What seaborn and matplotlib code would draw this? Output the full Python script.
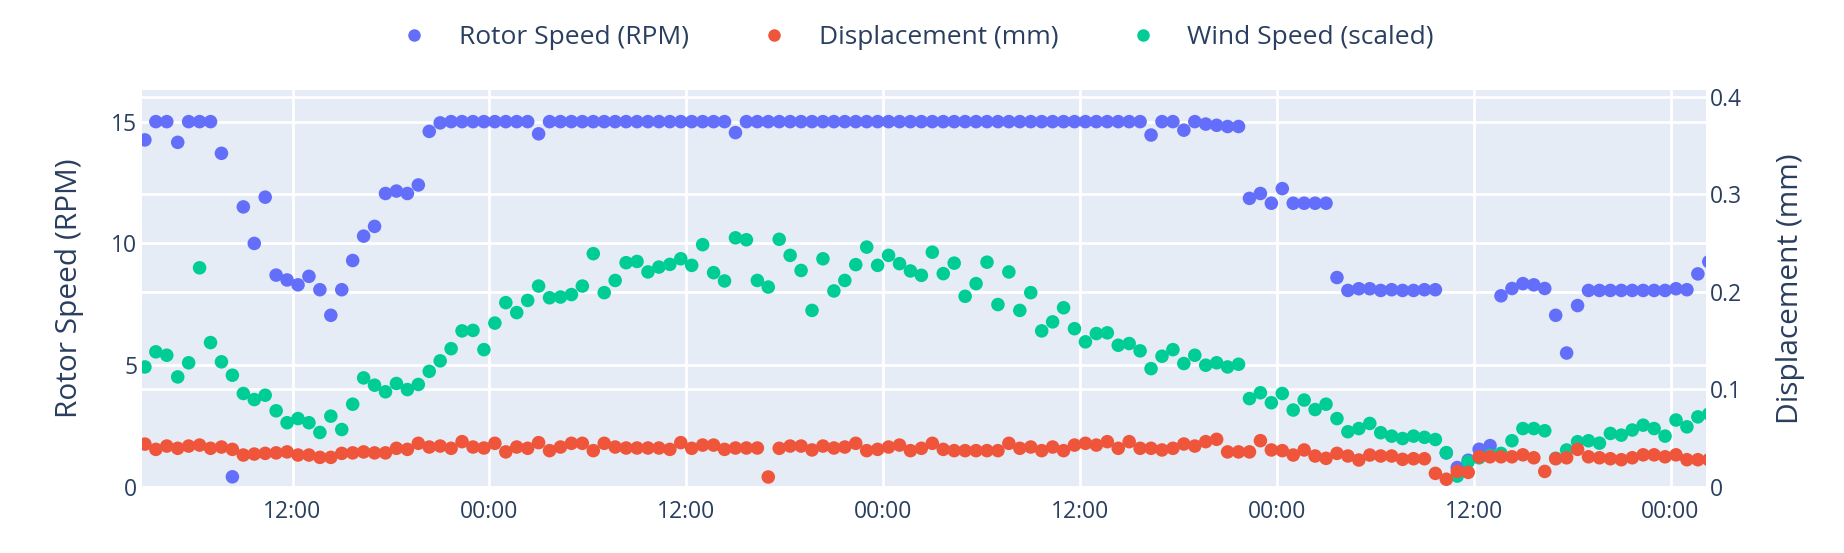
import numpy as np
import pandas as pd
import seaborn as sns
import matplotlib.pyplot as plt
import matplotlib.dates as mdates
from matplotlib.lines import Line2D

# readings every 40 minutes over four days
START = '2024-03-01 03:00'
STEP = '40min'

rotor_speed = [
    14.25, 15.0, 15.0, 14.15, 15.0, 15.0, 15.0, 13.7, 0.42, 11.5,
    10.0, 11.9, 8.7, 8.5, 8.3, 8.65, 8.1, 7.05, 8.1, 9.3,
    10.3, 10.7, 12.05, 12.15, 12.05, 12.4, 14.6, 14.95, 15.0, 15.0,
    15.0, 15.0, 15.0, 15.0, 15.0, 15.0, 14.5, 15.0, 15.0, 15.0,
    15.0, 15.0, 15.0, 15.0, 15.0, 15.0, 15.0, 15.0, 15.0, 15.0,
    15.0, 15.0, 15.0, 15.0, 14.55, 15.0, 15.0, 15.0, 15.0, 15.0,
    15.0, 15.0, 15.0, 15.0, 15.0, 15.0, 15.0, 15.0, 15.0, 15.0,
    15.0, 15.0, 15.0, 15.0, 15.0, 15.0, 15.0, 15.0, 15.0, 15.0,
    15.0, 15.0, 15.0, 15.0, 15.0, 15.0, 15.0, 15.0, 15.0, 15.0,
    15.0, 15.0, 14.45, 15.0, 15.0, 14.65, 15.0, 14.9, 14.85, 14.8,
    14.8, 11.85, 12.05, 11.65, 12.25, 11.65, 11.65, 11.65, 11.65, 8.6,
    8.07, 8.14, 8.14, 8.07, 8.1, 8.07, 8.07, 8.1, 8.1, 1.4,
    0.8, 1.1, 1.55, 1.7, 7.85, 8.15, 8.35, 8.3, 8.15, 7.05,
    5.5, 7.45, 8.07, 8.07, 8.07, 8.07, 8.07, 8.07, 8.07, 8.07,
    8.14, 8.1, 8.75, 9.25,
]

displacement = [
    0.044, 0.0386, 0.042, 0.0397, 0.042, 0.043, 0.0397, 0.041, 0.0386, 0.0328,
    0.0338, 0.0345, 0.035, 0.036, 0.0328, 0.0328, 0.0304, 0.0304, 0.0345, 0.035,
    0.036, 0.035, 0.035, 0.0397, 0.0386, 0.0448, 0.041, 0.042, 0.0397, 0.0465,
    0.041, 0.040, 0.0448, 0.036, 0.041, 0.0397, 0.0455, 0.0373, 0.041, 0.0448,
    0.0448, 0.0373, 0.0448, 0.041, 0.040, 0.040, 0.040, 0.040, 0.0386, 0.0455,
    0.0397, 0.043, 0.043, 0.0386, 0.040, 0.040, 0.040, 0.0103, 0.0397, 0.042,
    0.042, 0.038, 0.042, 0.040, 0.041, 0.0448, 0.0373, 0.0386, 0.041, 0.043,
    0.0373, 0.0397, 0.0448, 0.0386, 0.0373, 0.0373, 0.0373, 0.0373, 0.0373, 0.0448,
    0.0397, 0.041, 0.0373, 0.041, 0.0373, 0.043, 0.0448, 0.043, 0.0465, 0.0397,
    0.0465, 0.0397, 0.0397, 0.038, 0.0397, 0.0441, 0.042, 0.0465, 0.0489, 0.036,
    0.036, 0.036, 0.0475, 0.038, 0.0373, 0.0328, 0.038, 0.0318, 0.0294, 0.0345,
    0.0318, 0.0277, 0.0328, 0.0318, 0.0318, 0.0284, 0.029, 0.029, 0.014, 0.008,
    0.016, 0.015, 0.031, 0.031, 0.031, 0.031, 0.033, 0.030, 0.016, 0.029,
    0.030, 0.0386, 0.031, 0.030, 0.029, 0.028, 0.030, 0.033, 0.033, 0.031,
    0.033, 0.028, 0.028, 0.028,
]

wind_scaled = [
    4.93, 5.55, 5.41, 4.52, 5.1, 9.0, 5.93, 5.14, 4.59, 3.84,
    3.59, 3.77, 3.13, 2.64, 2.81, 2.64, 2.24, 2.91, 2.36, 3.4,
    4.48, 4.18, 3.91, 4.25, 4.0, 4.21, 4.75, 5.18, 5.68, 6.41,
    6.43, 5.64, 6.73, 7.57, 7.16, 7.66, 8.25, 7.77, 7.8, 7.9,
    8.25, 9.58, 7.98, 8.48, 9.21, 9.26, 8.83, 9.03, 9.14, 9.37,
    9.1, 9.95, 8.8, 8.46, 10.23, 10.15, 8.48, 8.21, 10.17, 9.51,
    8.89, 7.25, 9.37, 8.05, 8.48, 9.13, 9.85, 9.1, 9.51, 9.17,
    8.87, 8.69, 9.64, 8.76, 9.19, 7.83, 8.35, 9.23, 7.49, 8.83,
    7.25, 7.98, 6.41, 6.78, 7.36, 6.5, 5.96, 6.3, 6.33, 5.82,
    5.89, 5.59, 4.86, 5.37, 5.64, 5.07, 5.41, 5.0, 5.1, 4.93,
    5.04, 3.63, 3.87, 3.46, 3.84, 3.16, 3.57, 3.18, 3.4, 2.81,
    2.27, 2.4, 2.61, 2.23, 2.09, 1.99, 2.09, 2.04, 1.95, 1.41,
    0.45, 1.04, 1.2, 1.3, 1.38, 1.9, 2.4, 2.4, 2.31, 1.18,
    1.52, 1.86, 1.9, 1.8, 2.2, 2.13, 2.34, 2.54, 2.4, 2.09,
    2.75, 2.47, 2.88, 3.0,
]

labels = ['Rotor Speed (RPM)', 'Displacement (mm)', 'Wind Speed (scaled)']
colors = ['#636EFA', '#EF553B', '#00CC96']
text_color = '#2a3f5f'
bg_color = '#E5ECF6'

times = pd.date_range(START, periods=len(rotor_speed), freq=STEP)
df = pd.DataFrame({'time': times, 'rotor': rotor_speed,
                   'disp': displacement, 'wind': wind_scaled})

left_top = 16.3
right_top = 0.407

sns.set_style('white')
plt.rcParams['font.family'] = ['Open Sans', 'DejaVu Sans']

fig, ax = plt.subplots(figsize=(18.44, 5.53), dpi=100)
fig.subplots_adjust(left=0.0768, right=0.9252, top=0.8373, bottom=0.1193)
ax2 = ax.twinx()

ax.set_facecolor(bg_color)
ax2.patch.set_visible(False)

ms = 95
sns.scatterplot(data=df, x='time', y='rotor', ax=ax, color=colors[0], s=ms,
                edgecolor='none', legend=False, zorder=3)
sns.scatterplot(data=df, x='time', y='wind', ax=ax, color=colors[2], s=ms,
                edgecolor='none', legend=False, zorder=4)
sns.scatterplot(data=df, x='time', y='disp', ax=ax2, color=colors[1], s=ms,
                edgecolor='none', legend=False, zorder=3)

ax.set_xlim(pd.Timestamp('2024-03-01 02:48'), pd.Timestamp('2024-03-05 02:10'))
ax.set_ylim(0, left_top)
ax2.set_ylim(0, right_top)

ax.xaxis.set_major_locator(mdates.HourLocator(byhour=[0, 12]))
ax.xaxis.set_major_formatter(mdates.DateFormatter('%H:%M'))
ax.set_yticks([0, 5, 10, 15])
ax2.set_yticks([0, 0.1, 0.2, 0.3, 0.4])
ax2.set_yticklabels(['0', '0.1', '0.2', '0.3', '0.4'])

# grid for both y axes lives on the lower axes so it stays under the markers
ax.grid(True, color='white', linewidth=2.0)
ax.set_axisbelow(True)
ax2.grid(False)
for v in [0.1, 0.2, 0.3, 0.4]:
    ax.axhline(v * left_top / right_top, color='white', linewidth=2.0, zorder=0.5)

for a in (ax, ax2):
    for sp in a.spines.values():
        sp.set_visible(False)
    a.tick_params(length=0, labelsize=16.5, labelcolor=text_color)
ax.tick_params(axis='x', pad=9)
ax.tick_params(axis='y', pad=3)
ax2.tick_params(axis='y', pad=3)

ax.set_xlabel('')
ax.set_ylabel('Rotor Speed (RPM)', fontsize=21.5, color=text_color, labelpad=20)
ax2.set_ylabel('Displacement (mm)', fontsize=21.5, color=text_color, labelpad=24)

handles = [Line2D([], [], marker='o', linestyle='none', color=c,
                  markersize=9, markeredgewidth=0) for c in colors]
fig.legend(handles, labels, loc='center', bbox_to_anchor=(0.494, 1 - 38 / 553),
           ncol=3, frameon=False, fontsize=19, labelcolor=text_color,
           handletextpad=0.7, columnspacing=2.2)

fig.savefig('out.png', dpi=100)
